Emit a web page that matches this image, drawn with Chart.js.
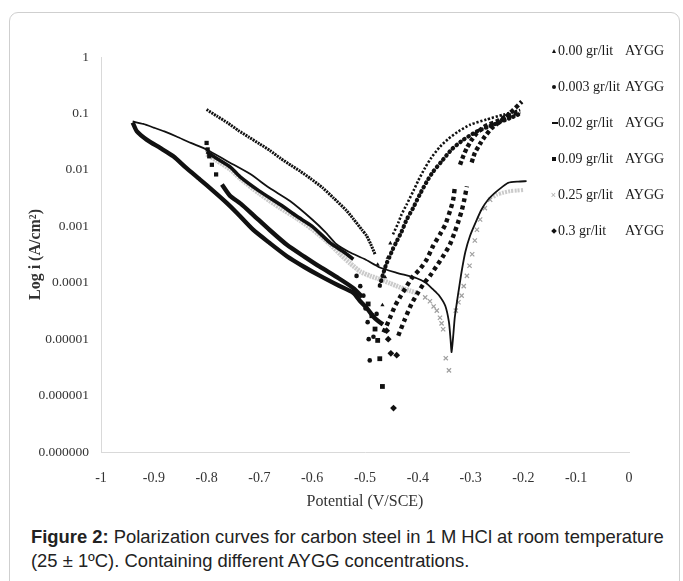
<!DOCTYPE html>
<html>
<head>
<meta charset="utf-8">
<script src="https://cdn.jsdelivr.net/npm/chart.js@4.4.1/dist/chart.umd.min.js"></script>
<style>
  body { margin: 0; background: #fff; width: 683px; height: 581px; overflow: hidden; position: relative; }
  #frame { position: absolute; left: 9px; top: 12px; width: 671px; height: 620px; border: 1px solid #cfcfcf; border-radius: 9px; box-sizing: border-box; }
  #c { position: absolute; left: 0; top: 0; }
  #legend { position: absolute; left: 549px; top: 33px; font-family: "Liberation Serif", serif; font-size: 14px; color: #1a1a1a; }
  #legend .row { height: 36px; display: flex; align-items: center; white-space: pre; }
  #legend .mk { width: 9px; display: flex; justify-content: center; align-items: center; }
  #legend .nm { width: 67px; }
  #caption { position: absolute; left: 31px; top: 525px; font-family: "Liberation Sans", Arial, sans-serif; font-size: 18.4px; line-height: 24px; color: #222; white-space: nowrap; }
</style>
</head>
<body>
<div id="frame"></div>
<canvas id="c" width="683" height="520"></canvas>
<div id="legend"></div>
<div id="caption"><b>Figure 2:</b> Polarization curves for carbon steel in 1 M HCl at room temperature<br>(25 ± 1ºC). Containing different AYGG concentrations.</div>
<script>
// -------- DADOS (potencial em V/SCE, corrente em A/cm²) --------
const seriesLabels = ['0.00 gr/lit AYGG', '0.003 gr/lit AYGG', '0.02 gr/lit AYGG', '0.09 gr/lit AYGG', '0.25 gr/lit AYGG', '0.3 gr/lit AYGG'];

const xTickVals = [-1, -0.9, -0.8, -0.7, -0.6, -0.5, -0.4, -0.3, -0.2, -0.1, 0];
const xTickLabels = ['-1', '-0.9', '-0.8', '-0.7', '-0.6', '-0.5', '-0.4', '-0.3', '-0.2', '-0.1', '0'];
const yTickVals = [1e-7, 1e-6, 1e-5, 1e-4, 1e-3, 1e-2, 1e-1, 1];
const yTickLabels = ['0.000000', '0.000001', '0.00001', '0.0001', '0.001', '0.01', '0.1', '1'];

// 0.00 gr/lit (triangulos)
const e000cat = [-0.800, -0.780, -0.760, -0.740, -0.720, -0.700, -0.680, -0.660, -0.640, -0.623, -0.604, -0.580, -0.560, -0.535, -0.522, -0.506, -0.497, -0.489, -0.481];
const i000cat = [1.17e-1, 8.9e-2, 6.8e-2, 5.0e-2, 3.8e-2, 2.9e-2, 2.2e-2, 1.6e-2, 1.2e-2, 9.5e-3, 7.1e-3, 4.8e-3, 3.2e-3, 1.9e-3, 1.35e-3, 8.7e-4, 6.8e-4, 4.8e-4, 3.2e-4];
const e000min = [-0.476, -0.472, -0.467, -0.462, -0.457, -0.452];
const i000min = [2.1e-4, 8.7e-5, 4.0e-5, 1.26e-4, 2.8e-4, 5.0e-4];
const e000ano = [-0.447, -0.437, -0.431, -0.421, -0.408, -0.399, -0.386, -0.374, -0.358, -0.342, -0.323, -0.301, -0.270, -0.238, -0.206];
const i000ano = [7.2e-4, 1.15e-3, 1.6e-3, 2.45e-3, 4.3e-3, 6.5e-3, 1.1e-2, 1.66e-2, 2.57e-2, 3.55e-2, 4.8e-2, 6.3e-2, 7.8e-2, 9.5e-2, 1.15e-1];

// 0.003 gr/lit (circulos)
const e003cat = [-0.800, -0.780, -0.755, -0.737, -0.700, -0.660, -0.629, -0.600, -0.566, -0.540, -0.522];
const i003cat = [2.1e-2, 1.58e-2, 1.12e-2, 7.6e-3, 4.2e-3, 2.4e-3, 1.5e-3, 1.0e-3, 5.1e-4, 3.5e-4, 2.6e-4];
const e003min = [-0.516, -0.509, -0.503, -0.499, -0.495, -0.493, -0.491, -0.484, -0.478];
const i003min = [1.32e-4, 8.7e-5, 5.9e-5, 3.5e-5, 2.0e-5, 1.0e-5, 4.2e-6, 1.1e-5, 2.8e-5];
const e003ano = [-0.472, -0.466, -0.460, -0.454, -0.447, -0.440, -0.431, -0.421, -0.409, -0.396, -0.383, -0.371, -0.355, -0.336, -0.314, -0.288, -0.257, -0.225, -0.203];
const i003ano = [8.9e-5, 1.4e-4, 2.1e-4, 2.8e-4, 4.0e-4, 5.4e-4, 7.9e-4, 1.32e-3, 2.1e-3, 3.7e-3, 6.2e-3, 9.3e-3, 1.41e-2, 2.3e-2, 3.4e-2, 4.8e-2, 6.3e-2, 8.3e-2, 1.02e-1];

// 0.02 gr/lit (linha continua)
const e002 = [-0.940, -0.920, -0.900, -0.880, -0.857, -0.830, -0.800, -0.760, -0.718, -0.680, -0.642, -0.600, -0.575, -0.554, -0.530, -0.500, -0.472, -0.440, -0.402, -0.385, -0.371, -0.360, -0.348, -0.341, -0.338, -0.336, -0.333, -0.330, -0.326, -0.322, -0.317, -0.310, -0.301, -0.290, -0.279, -0.267, -0.254, -0.240, -0.229, -0.210, -0.194];
const i002 = [7.2e-2, 6.5e-2, 5.6e-2, 4.8e-2, 3.9e-2, 3.0e-2, 2.3e-2, 1.41e-2, 8.5e-3, 4.7e-3, 2.8e-3, 1.32e-3, 7.9e-4, 4.8e-4, 3.5e-4, 2.6e-4, 1.86e-4, 1.5e-4, 1.2e-4, 1.0e-4, 7.6e-5, 6.0e-5, 3.9e-5, 2.0e-5, 1.0e-5, 5.9e-6, 1.12e-5, 2.4e-5, 4.5e-5, 7.9e-5, 1.58e-4, 3.5e-4, 6.8e-4, 1.2e-3, 2.0e-3, 2.95e-3, 3.9e-3, 5.0e-3, 5.9e-3, 6.2e-3, 6.3e-3];

// 0.09 gr/lit (quadrados)
const e009ini = [-0.800, -0.798, -0.795, -0.790, -0.782];
const i009ini = [3.0e-2, 2.3e-2, 1.74e-2, 1.23e-2, 8.3e-3];
const e009cat = [-0.771, -0.756, -0.735, -0.712, -0.680, -0.648, -0.615, -0.585, -0.550, -0.522, -0.505];
const i009cat = [5.5e-3, 3.5e-3, 2.5e-3, 1.6e-3, 8.5e-4, 4.7e-4, 2.9e-4, 1.9e-4, 1.2e-4, 8.0e-5, 5.6e-5];
const e009min = [-0.494, -0.487, -0.481, -0.476, -0.472, -0.467];
const i009min = [4.2e-5, 2.6e-5, 1.51e-5, 9.5e-6, 4.5e-6, 1.45e-6];
const e009ano = [-0.465, -0.459, -0.451, -0.443, -0.432, -0.421, -0.410, -0.396, -0.383, -0.371, -0.358, -0.348, -0.338, -0.333, -0.330];
const i009ano = [1.32e-5, 1.74e-5, 2.6e-5, 3.9e-5, 5.9e-5, 8.7e-5, 1.26e-4, 1.74e-4, 2.6e-4, 4.5e-4, 7.2e-4, 1.07e-3, 2.0e-3, 2.95e-3, 4.8e-3];
const e009sup = [-0.320, -0.314, -0.307, -0.298, -0.288, -0.273, -0.251, -0.232, -0.206];
const i009sup = [1.23e-2, 1.74e-2, 2.45e-2, 3.4e-2, 4.5e-2, 5.9e-2, 7.2e-2, 8.9e-2, 1.07e-1];

// 0.25 gr/lit (x cinza)
const e025cat = [-0.800, -0.780, -0.755, -0.737, -0.700, -0.660, -0.629, -0.600, -0.566, -0.547, -0.528, -0.509, -0.490, -0.472, -0.453, -0.434, -0.415, -0.396];
const i025cat = [1.9e-2, 1.45e-2, 1.02e-2, 7.1e-3, 3.8e-3, 2.1e-3, 1.38e-3, 8.9e-4, 4.8e-4, 3.2e-4, 2.2e-4, 1.58e-4, 1.32e-4, 1.15e-4, 9.8e-5, 8.3e-5, 7.2e-5, 6.3e-5];
const e025min = [-0.386, -0.377, -0.370, -0.364, -0.358, -0.355, -0.352, -0.347, -0.341, -0.328, -0.323, -0.317, -0.313, -0.307, -0.302, -0.297, -0.292, -0.288, -0.282, -0.273, -0.263];
const i025min = [5.5e-5, 4.7e-5, 3.8e-5, 3.2e-5, 2.4e-5, 1.9e-5, 1.5e-5, 4.6e-6, 2.8e-6, 3.2e-5, 4.5e-5, 5.9e-5, 8.7e-5, 1.32e-4, 2.0e-4, 3.2e-4, 5.6e-4, 8.7e-4, 1.32e-3, 2.1e-3, 2.95e-3];
const e025sup = [-0.257, -0.251, -0.240, -0.225, -0.212, -0.200];
const i025sup = [3.3e-3, 3.6e-3, 3.9e-3, 4.2e-3, 4.3e-3, 4.4e-3];

// 0.3 gr/lit (losangos)
const e03cat = [-0.940, -0.932, -0.913, -0.888, -0.863, -0.838, -0.813, -0.787, -0.762, -0.743, -0.712, -0.680, -0.648, -0.615, -0.585, -0.550, -0.522, -0.509, -0.495, -0.484, -0.475, -0.466];
const i03cat = [6.9e-2, 4.8e-2, 3.4e-2, 2.45e-2, 1.74e-2, 1.07e-2, 6.8e-3, 4.2e-3, 2.6e-3, 1.74e-3, 8.7e-4, 5.0e-4, 2.95e-4, 1.9e-4, 1.32e-4, 8.9e-5, 6.6e-5, 4.7e-5, 3.4e-5, 2.5e-5, 2.1e-5, 1.82e-5];
const e03min = [-0.459, -0.456, -0.451, -0.446, -0.440];
const i03min = [1.41e-5, 1.0e-5, 5.6e-6, 6.0e-7, 5.2e-6];
const e03ano = [-0.437, -0.425, -0.412, -0.400, -0.390, -0.377, -0.364, -0.352, -0.339, -0.330, -0.323, -0.317, -0.312, -0.307];
const i03ano = [1.15e-5, 2.2e-5, 4.2e-5, 6.6e-5, 9.3e-5, 1.32e-4, 2.0e-4, 2.95e-4, 4.8e-4, 7.9e-4, 1.23e-3, 1.86e-3, 2.95e-3, 5.1e-3];
const e03sup = [-0.298, -0.292, -0.282, -0.273, -0.260, -0.244, -0.225, -0.203];
const i03sup = [1.35e-2, 2.0e-2, 2.9e-2, 3.9e-2, 5.5e-2, 7.2e-2, 1.02e-1, 1.62e-1];

// -------- ESTILOS --------
const ink = '#111';
const cinza = 'rgba(150,150,150,0.5)';

function run(k, E, I, o) {
  return {
    label: seriesLabels[k],
    data: E.map((e, j) => ({ x: e, y: I[j] })),
    showLine: !!o.w,
    tension: 0.2,
    borderColor: o.c || ink,
    borderWidth: o.w || 0,
    borderDash: o.dash || [],
    borderCapStyle: o.cap || 'butt',
    borderJoinStyle: 'round',
    pointStyle: o.shape || 'circle',
    pointRadius: o.r || 0,
    pointBackgroundColor: o.pc || ink,
    pointBorderColor: o.pc || ink,
    pointBorderWidth: o.pb || 0,
    order: o.order || 0
  };
}

const datasets = [
  run(0, e000cat, i000cat, { w: 3, dash: [2, 0.9] }),
  run(0, e000min, i000min, { shape: 'triangle', r: 2.4 }),
  run(0, e000ano, i000ano, { w: 2.6, dash: [2.2, 1.8] }),

  run(1, e003cat, i003cat, { w: 3.6 }),
  run(1, e003min, i003min, { r: 2.3 }),
  run(1, e003ano, i003ano, { w: 4.2, dash: [0.5, 4.4], cap: 'round' }),

  run(2, e002, i002, { w: 1.8 }),

  run(3, e009ini, i009ini, { shape: 'rect', r: 3 }),
  run(3, e009cat, i009cat, { w: 4.4 }),
  run(3, e009min, i009min, { shape: 'rect', r: 3.4 }),
  run(3, e009ano, i009ano, { w: 4.4, dash: [4, 3.5] }),
  run(3, e009sup, i009sup, { w: 4.4, dash: [4, 2.5] }),

  run(4, e025cat, i025cat, { w: 4.8, c: cinza, dash: [2, 0.8], order: 5 }),
  run(4, e025min, i025min, { shape: 'crossRot', r: 3, pc: '#a0a0a0', pb: 1.2, order: 5 }),
  run(4, e025sup, i025sup, { w: 4, c: cinza, dash: [2, 1.2], order: 5 }),

  run(5, e03cat, i03cat, { w: 4.4 }),
  run(5, e03min, i03min, { shape: 'rectRot', r: 3.4 }),
  run(5, e03ano, i03ano, { w: 4.4, dash: [4, 3.5] }),
  run(5, e03sup, i03sup, { w: 4.4, dash: [4, 2.5] })
];

// -------- GRAFICO --------
const serif = 'Liberation Serif';
const ctx = document.getElementById('c').getContext('2d');
const chart = new Chart(ctx, {
  type: 'scatter',
  data: { datasets },
  options: {
    responsive: false,
    animation: false,
    devicePixelRatio: 1,
    events: [],
    layout: { padding: { left: 0, top: 57, right: 54, bottom: 8 } },
    plugins: { legend: { display: false }, tooltip: { enabled: false } },
    scales: {
      x: {
        type: 'linear', min: -1, max: 0,
        afterFit: (s) => { s.height = 60; },
        afterBuildTicks: (s) => { s.ticks = xTickVals.map(v => ({ value: v })); },
        grid: { display: false, drawTicks: false },
        border: { display: true, color: '#d9d9d9', width: 1 },
        ticks: {
          autoSkip: false, maxRotation: 0, padding: 18, color: '#333',
          font: { family: serif, size: 14 },
          callback: (v, i) => xTickLabels[i]
        },
        title: {
          display: true, text: 'Potential (V/SCE)', color: '#333',
          font: { family: serif, size: 16 }, padding: { top: 0, bottom: 1 }
        }
      },
      y: {
        type: 'logarithmic', min: 1e-7, max: 1,
        afterFit: (s) => { s.width = 101; },
        afterBuildTicks: (s) => { s.ticks = yTickVals.map(v => ({ value: v })); },
        grid: { display: false, drawTicks: false },
        border: { display: true, color: '#d9d9d9', width: 1 },
        ticks: {
          autoSkip: false, padding: 12, color: '#333',
          font: { family: serif, size: 13.5 },
          callback: (v, i) => yTickLabels[i]
        },
        title: {
          display: true, text: 'Log i (A/cm²)', color: '#333',
          font: { family: serif, size: 16, weight: 'bold' }, padding: { top: 26, bottom: 0 }
        }
      }
    }
  }
});

// -------- LEGENDA (HTML) --------
const marcadores = [
  '<span style="width:0;height:0;border-left:2.5px solid transparent;border-right:2.5px solid transparent;border-bottom:4px solid #111"></span>',
  '<span style="width:4px;height:4px;border-radius:50%;background:#111"></span>',
  '<span style="width:10px;height:2px;background:#111;margin-left:3px"></span>',
  '<span style="width:4px;height:4px;background:#111"></span>',
  '<span style="color:#aaa;font:9px sans-serif">×</span>',
  '<span style="width:4px;height:4px;background:#111;transform:rotate(45deg)"></span>'
];
const legendBox = document.getElementById('legend');
seriesLabels.forEach((lab, k) => {
  const nome = lab.replace(' AYGG', '');
  const row = document.createElement('div');
  row.className = 'row';
  row.innerHTML = `<span class="mk">${marcadores[k]}</span><span class="nm">${nome}</span><span>AYGG</span>`;
  legendBox.appendChild(row);
});
</script>
</body>
</html>
